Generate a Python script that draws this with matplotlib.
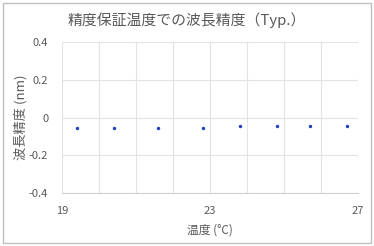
import matplotlib.pyplot as plt
from matplotlib.patches import Rectangle

plt.rcParams['font.family'] = ['Noto Sans CJK JP', 'DejaVu Sans']

temps = [19.4, 20.4, 21.6, 22.8, 23.8, 24.8, 25.7, 26.7]
accuracy = [-0.055, -0.055, -0.055, -0.055, -0.047, -0.047, -0.047, -0.042]

text_col = '#595959'
grid_col = '#e3e3e3'

fig = plt.figure(figsize=(3.74, 2.46), dpi=100)
fig.patches.append(Rectangle((0.008, 0.012), 0.984, 0.976, transform=fig.transFigure,
                             fill=False, edgecolor='#bfbfbf', linewidth=1.0))
ax = fig.add_axes([0.166, 0.215, 0.791, 0.614])

ax.scatter(temps, accuracy, s=6, color='#1f3fbf', zorder=3, linewidths=0)

ax.set_xlim(19, 27)
ax.set_ylim(-0.4, 0.4)
ax.set_xticks([19, 23, 27])
ax.set_xticks(range(19, 28), minor=True)
ax.set_yticks([-0.4, -0.2, 0, 0.2, 0.4])
ax.set_yticklabels(['-0.4', '-0.2', '0', '0.2', '0.4'])
ax.grid(True, which='both', color=grid_col, linewidth=0.8)
ax.set_axisbelow(True)
for s in ['top', 'right', 'left']:
    ax.spines[s].set_visible(False)
ax.spines['bottom'].set_color('#d0d0d0')
ax.tick_params(which='both', length=0, colors=text_col, labelsize=8)
ax.tick_params(axis='x', pad=9)
ax.tick_params(axis='y', pad=10)

ax.set_xlabel('温度 (°C)', color=text_col, fontsize=8.5, labelpad=6)
ax.set_ylabel('波長精度 (nm)', color=text_col, fontsize=9.5, labelpad=1)
fig.text(0.50, 0.918, '精度保証温度での波長精度（Typ.）', ha='center', va='center',
         color=text_col, fontsize=10.7)

fig.savefig('out.png', dpi=100)
